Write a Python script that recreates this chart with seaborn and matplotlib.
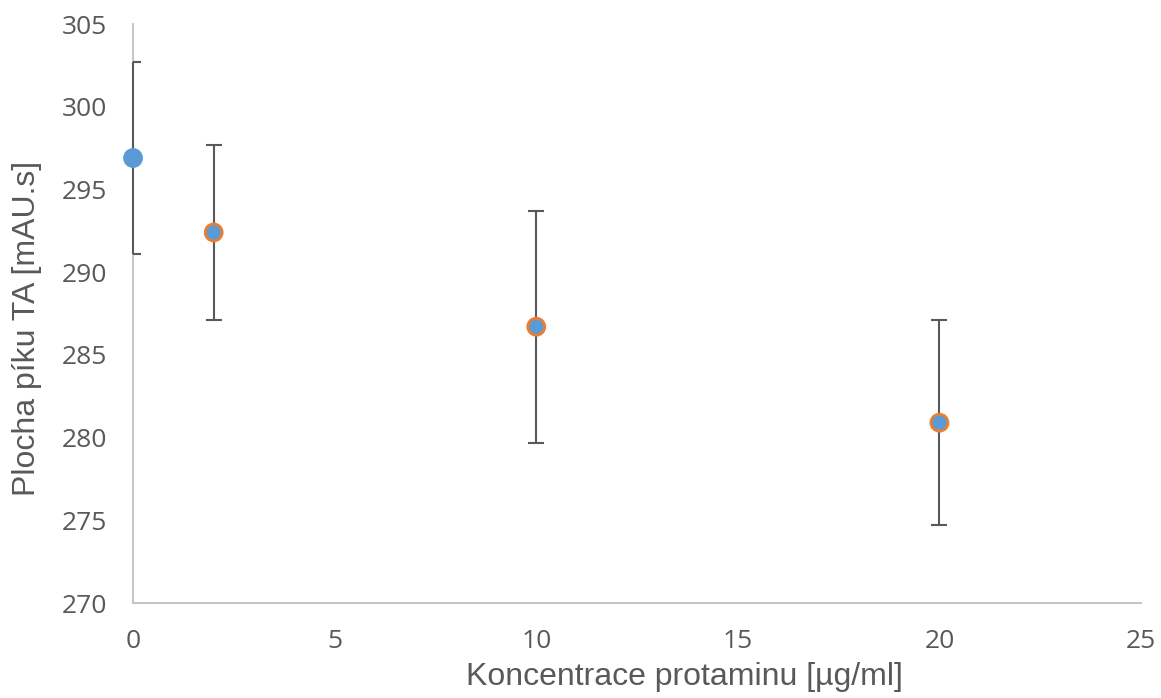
import matplotlib
matplotlib.use("Agg")
import matplotlib.pyplot as plt
import seaborn as sns
import pandas as pd

conc = [0, 2, 10, 20]
area = [296.9, 292.4, 286.7, 280.9]
err = [5.8, 5.3, 7.0, 6.2]
series = ["control", "protamin", "protamin", "protamin"]

sns.set_theme(style="white")
plt.rcParams['font.family'] = ['Open Sans', 'DejaVu Sans']

df = pd.DataFrame({"x": conc, "y": area, "e": err, "s": series})

fig = plt.figure(figsize=(11.61, 6.98), dpi=100)
ax = fig.add_axes([0.1146, 0.1361, 0.8682, 0.8295])

eb = ax.errorbar(df["x"], df["y"], yerr=df["e"], fmt="none", ecolor="#595959",
                 elinewidth=1.5, capsize=6, capthick=1.5, zorder=4)

palette = {"control": "#5B9BD5", "protamin": "#5B9BD5"}
edges = ["#5B9BD5" if s == "control" else "#ED7D31" for s in series]
sns.scatterplot(data=df, x="x", y="y", hue="s", palette=palette, s=150,
                edgecolor=edges, linewidth=2, legend=False, ax=ax, zorder=5)
for c in ax.collections:
    c.set_clip_on(False)

ax.set_xlim(0, 25)
ax.set_ylim(270, 305)
ax.set_xticks([0, 5, 10, 15, 20, 25])
ax.set_yticks(range(270, 306, 5))
ax.tick_params(axis="both", labelsize=19, colors="#595959", length=0)
ax.tick_params(axis="y", pad=18.5)
ax.tick_params(axis="x", pad=19)
for sp in ["top", "right"]:
    ax.spines[sp].set_visible(False)
for sp in ["left", "bottom"]:
    ax.spines[sp].set_color("#BFBFBF")
    ax.spines[sp].set_linewidth(1.3)

lab_font = ['Liberation Sans', 'DejaVu Sans']
ax.set_xlabel("Koncentrace protaminu [µg/ml]", fontsize=23, color="#595959",
              family=lab_font)
ax.set_ylabel("Plocha píku TA [mAU.s]", fontsize=23, color="#595959",
              family=lab_font)
ax.xaxis.set_label_coords(0.5466, -0.128)
ax.xaxis.label.set_va("center")
ax.yaxis.set_label_coords(-0.105, 0.474)
ax.yaxis.label.set_va("center")

fig.savefig("out.png", dpi=100)
